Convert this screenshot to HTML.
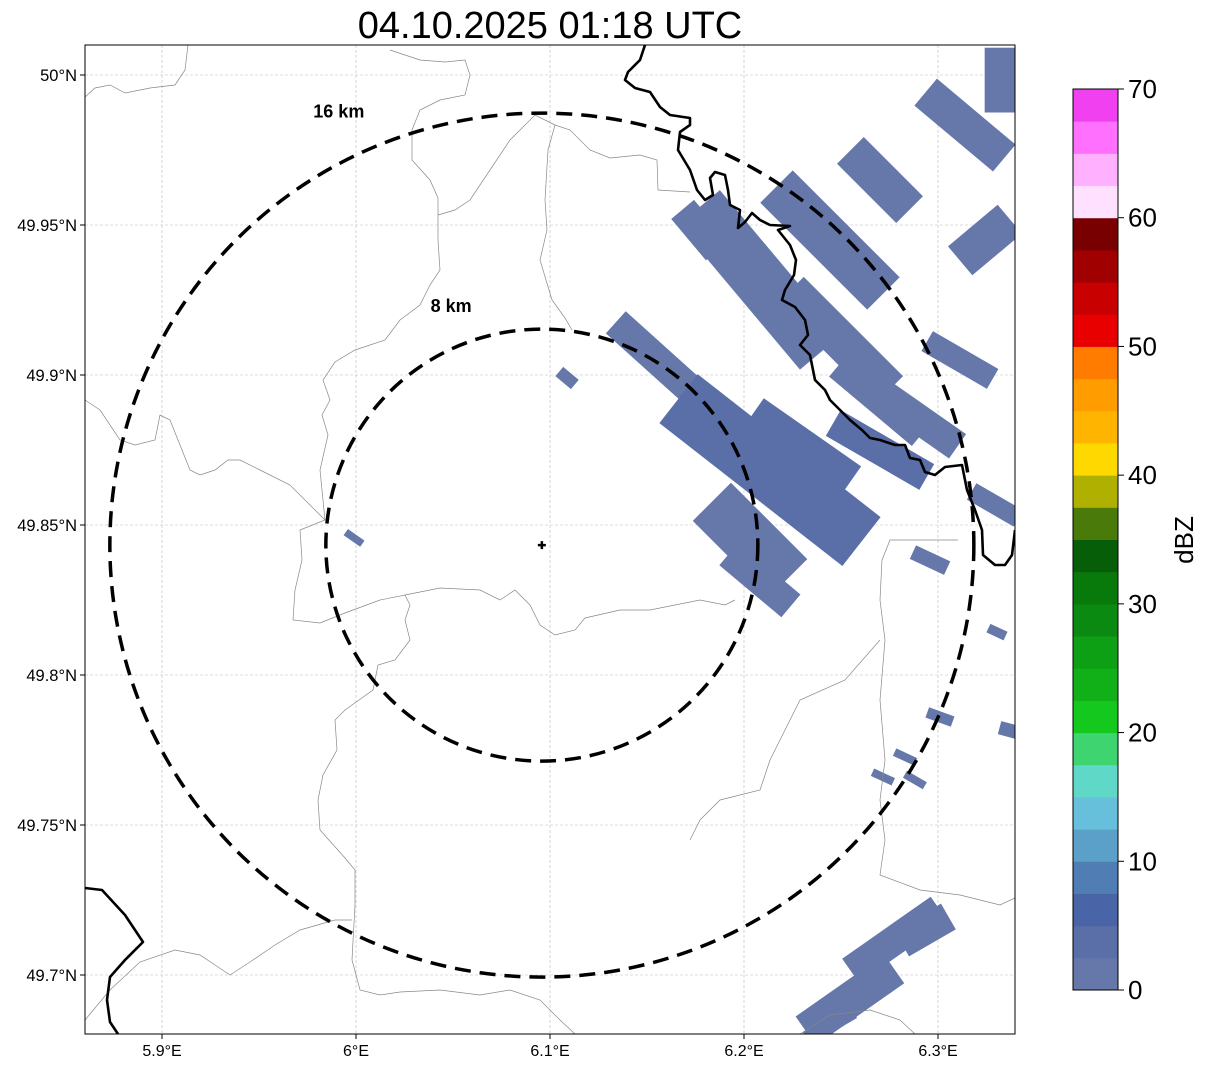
<!DOCTYPE html>
<html><head><meta charset="utf-8"><style>
html,body{margin:0;padding:0;background:#fff}
svg{display:block;font-family:"Liberation Sans","DejaVu Sans",sans-serif}
</style></head><body>
<svg id="chart" width="1207" height="1069" viewBox="0 0 1207 1069" xmlns="http://www.w3.org/2000/svg">
<text x="550" y="38" font-size="38" text-anchor="middle">04.10.2025 01:18 UTC</text>
<defs><clipPath id="mapclip"><rect x="85" y="45" width="930" height="989"/></clipPath></defs>
<g id="grid"></g>
<g clip-path="url(#mapclip)">
<g id="echoes"></g>
<g fill="none" stroke="#888" stroke-width="0.7">
<polyline points="85,97 95,88 110,85 125,93 150,88 175,85 185,70 188,45"/>
<polyline points="390,50 420,60 445,62 465,60 470,75 465,95 440,100 420,110 412,130 412,160 430,180 438,198 438,215 438,240 440,270 430,285 420,305 400,320 385,340 355,350 335,362 323,380 330,400 322,415 328,435 320,470 325,520"/>
<polyline points="438,215 455,210 470,200 490,170 510,140 535,115 555,125 570,130 590,150 610,158 640,155 657,160 658,190 690,192"/>
<polyline points="555,125 548,150 545,200 547,230 540,260 552,300 565,318 572,330"/>
<polyline points="85,400 100,410 120,440 135,445 155,440 160,415 170,420 180,445 190,470 200,475 215,470 228,460 240,460 260,470 290,485 310,505 325,520 300,530 302,560 295,590 293,620 320,623 345,613 380,600 405,595 410,605 405,620 410,640 395,660 378,665 373,690 345,710 335,720 337,750 323,775 318,800 320,830 345,858 355,870 355,905 352,960 360,990 380,995 400,992 440,990 480,995 510,990 540,1000 560,1020 575,1034"/>
<polyline points="405,595 440,588 480,590 500,600 515,590 530,605 540,625 555,635 575,630 585,618 620,610 650,610 700,600 725,605 735,600"/>
<polyline points="85,1020 110,990 140,962 175,950 200,955 215,965 230,975 250,962 275,945 300,930 335,920 352,920"/>
<polyline points="1015,898 1000,905 960,895 920,890 880,875 885,840 880,800 885,760 880,700 885,640 880,600 882,560 890,540 920,540 958,540"/>
<polyline points="880,640 845,680 800,700 780,740 770,760 760,790 720,800 700,820 690,840"/>
<polyline points="800,1034 830,1015 870,1010 900,1020 915,1034"/>
</g>
<g fill="none" stroke="#000" stroke-width="2.6" stroke-linejoin="round">
<polyline points="645,45 640,60 628,72 625,80 635,88 650,92 660,107 670,115 690,118 690,125 680,132 678,150 690,170 697,190 705,200 713,195 710,178 715,172 725,175 728,190 730,205 740,210 738,228 745,222 752,213 760,220 770,225 790,226 778,230 790,245 796,260 794,275 785,290 782,300 795,307 805,320 808,335 800,345 810,355 815,380 825,390 830,400 840,410 850,420 862,430 870,438 880,440 895,445 905,445 910,458 920,460 925,472 935,475 945,467 962,465 967,490 975,510 982,530 983,555 995,565 1005,565 1012,555 1015,530"/>
<polyline points="85,888 102,890 125,915 143,942 125,960 110,977 107,1000 110,1022 118,1034"/>
</g>
<g id="rings"></g>
</g>
<rect x="85" y="45" width="930" height="989" fill="none" stroke="#000" stroke-width="1"/>
<g id="axes"></g>
<g id="cbar"></g>
<text transform="translate(1193,540) rotate(-90)" font-size="26" text-anchor="middle">dBZ</text>
</svg>
<script>
const NS='http://www.w3.org/2000/svg';
const lonTicks=[5.9,6.0,6.1,6.2,6.3];
const lonLabels=['5.9°E','6°E','6.1°E','6.2°E','6.3°E'];
const latTicks=[50.0,49.95,49.9,49.85,49.8,49.75,49.7];
const latLabels=['50°N','49.95°N','49.9°N','49.85°N','49.8°N','49.75°N','49.7°N'];
const radarLon=6.0958, radarLat=49.8433;
const ringKm=[8,16];
const ringLabels=['8 km','16 km'];
const echoLon=[6.2082,6.2443,6.2701,6.2495,6.2701,6.2907,6.167,6.2134,6.2289,6.2031,6.2082,6.2701,6.3113,6.3139,6.3345,6.3242,6.3294,6.2959,6.3304,6.301,6.283,6.2881,6.2716,6.3361,6.2778,6.2546,6.2933,6.2443,6.1088,5.999,6.1773];
const echoLat=[49.9317,49.945,49.965,49.9117,49.8917,49.885,49.8983,49.8683,49.875,49.845,49.8317,49.875,49.905,49.9833,49.9983,49.945,49.8567,49.8383,49.8143,49.786,49.7727,49.765,49.766,49.7817,49.7117,49.6917,49.715,49.6833,49.899,49.8457,49.9483];
const echoLenKm=[7.0,5.6,3.1,5.2,4.0,3.4,6.4,8.6,4.4,4.0,3.0,4.0,2.8,3.8,1.5,2.4,2.0,1.4,0.7,1.0,0.85,0.85,0.85,0.65,4.0,4.0,2.0,2.0,0.75,0.75,2.0];
const echoWidKm=[2.0,1.7,1.4,1.4,1.1,1.1,1.1,2.3,1.6,2.0,1.1,1.1,0.85,1.3,2.4,1.4,0.7,0.55,0.35,0.4,0.3,0.3,0.3,0.5,1.1,1.3,1.1,0.55,0.45,0.28,1.1];
const echoAngle=[50,45,45,45,40,35,42,38,35,45,40,30,30,40,0,-40,30,25,25,20,25,30,25,15,-35,-35,-30,-30,40,35,50];
const echoDbz=[2,2,2,2,2,2,2,3,4,2,2,4,2,2,2,2,2,2,2,2,2,2,2,2,2,2,2,2,2,2,2];
const cbarColors=['#6677aa','#5a6ea8','#4a64a8','#4f7db4','#5aa0c8','#66c0dc','#60d8c8','#3ed470','#14c81e','#12b018','#0ea014','#0a8a10','#087a0c','#065e08','#4a7a0a','#b0b000','#ffd800','#ffb400','#ff9c00','#ff7c00','#e80000','#c80000','#a00000','#780000','#ffe0ff','#ffb0ff','#ff70ff','#f040f0'];
const cbarTicks=[0,10,20,30,40,50,60,70];

const xS=lon=>162+(lon-5.9)*1940;
const yS=lat=>75+(50-lat)*3000;
const kmPx=27;
const cbY=v=>990-v*(901/70);
const colorFor=v=>cbarColors[Math.max(0,Math.min(27,Math.floor(v/2.5)))];
function mk(tag,attrs,parent){const e=document.createElementNS(NS,tag);for(const k in attrs)e.setAttribute(k,attrs[k]);parent.appendChild(e);return e;}

const grid=document.getElementById('grid'), axes=document.getElementById('axes');
lonTicks.forEach((t,i)=>{const x=xS(t);
 const l=mk('line',{x1:x,x2:x,y1:45,y2:1034,stroke:'#bbb','stroke-width':0.6,'stroke-dasharray':'3,2'},grid);
 
 
 mk('line',{x1:x,x2:x,y1:1034,y2:1039,stroke:'#000'},axes);
 const tx=mk('text',{x:x,y:1056,'font-size':16,'text-anchor':'middle'},axes);tx.textContent=lonLabels[i];
 
 
});
latTicks.forEach((t,i)=>{const y=yS(t);
 const l=mk('line',{x1:85,x2:1015,y1:y,y2:y,stroke:'#bbb','stroke-width':0.6,'stroke-dasharray':'3,2'},grid);
 
 
 mk('line',{x1:80,x2:85,y1:y,y2:y,stroke:'#000'},axes);
 const tx=mk('text',{x:77,y:y+6,'font-size':16.5,'text-anchor':'end'},axes);tx.textContent=latLabels[i];
 
 
});

const echoes=document.getElementById('echoes');
echoLon.forEach((lon,i)=>{const cx=xS(lon),cy=yS(echoLat[i]);const L=echoLenKm[i]*kmPx,W=echoWidKm[i]*kmPx;
 const r=mk('rect',{x:cx-L/2,y:cy-W/2,width:L,height:W,fill:colorFor(echoDbz[i]),transform:`rotate(${echoAngle[i]} ${cx} ${cy})`},echoes);
 
 
});

const rings=document.getElementById('rings');
const rcx=xS(radarLon), rcy=yS(radarLat);
const labelDx=[-0.42,-0.47], labelDy=[-1.08,-0.99];
ringKm.forEach((km,i)=>{const r=km*kmPx;
 const c=mk('circle',{cx:rcx,cy:rcy,r:r,fill:'none',stroke:'#000','stroke-width':3.5,'stroke-dasharray':'16,9'},rings);
 
 
 const t=mk('text',{x:rcx+r*labelDx[i],y:rcy+r*labelDy[i],'font-size':18,'font-weight':'bold','text-anchor':'middle'},rings);t.textContent=ringLabels[i];
 
 
});
const m=mk('path',{d:`M${rcx-4},${rcy}H${rcx+4}M${rcx},${rcy-4}V${rcy+4}`,stroke:'#000','stroke-width':2.5},rings);



const cbar=document.getElementById('cbar');
cbarColors.forEach((c,i)=>{const y0=cbY(i*2.5),y1=cbY((i+1)*2.5);
 const r=mk('rect',{x:1073,y:y1,width:45,height:y0-y1+0.5,fill:c},cbar);
 
 
});
mk('rect',{x:1073,y:89,width:45,height:901,fill:'none',stroke:'#000','stroke-width':1},cbar);
cbarTicks.forEach(v=>{const y=cbY(v);
 mk('line',{x1:1118,x2:1124,y1:y,y2:y,stroke:'#000'},cbar);
 const t=mk('text',{x:1128,y:y+9,'font-size':26},cbar);t.textContent=v;
 
 
});
</script>
</body></html>
